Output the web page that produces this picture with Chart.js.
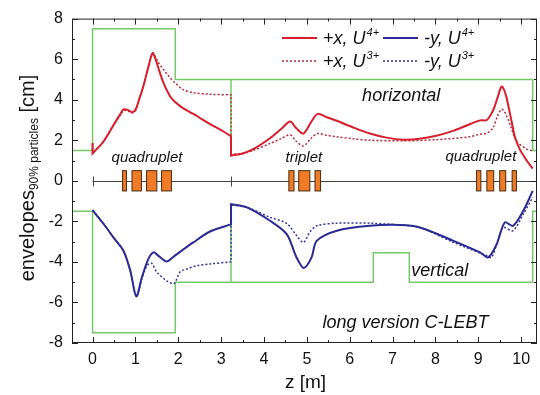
<!DOCTYPE html>
<html><head><meta charset="utf-8">
<script src="https://cdn.jsdelivr.net/npm/chart.js@4.4.1/dist/chart.umd.min.js"></script>
<style>html,body{margin:0;padding:0;background:#fff}#wrap{width:540px;height:395px}</style>
</head><body><div id="wrap"><canvas id="c" width="540" height="395"></canvas></div>
<script>
// ---- data ----
const xTicks = [0,1,2,3,4,5,6,7,8,9,10];
const yTicks = [-8,-6,-4,-2,0,2,4,6,8];

const redSolidZ = [0,0,0.26,0.49,0.65,0.72,0.82,0.92,1.0,1.1,1.19,1.30,1.40,1.47,1.53,1.65,1.80,1.92,2.1,2.35,2.74,3.0,3.23,3.23,3.5,3.75,4.14,4.4,4.61,4.75,4.92,5.1,5.25,5.45,5.70,6.08,6.47,6.86,7.25,7.63,8.02,8.41,8.80,9.04,9.2,9.34,9.45,9.54,9.6,9.66,9.78,9.85,9.97,10.13,10.27];
const redSolidV = [1.85,1.35,1.95,2.75,3.3,3.52,3.5,3.38,3.5,4.1,4.7,5.6,6.3,6.0,5.6,4.85,4.2,3.9,3.6,3.3,2.8,2.5,2.2,1.25,1.35,1.56,2.1,2.55,2.92,2.6,2.33,2.9,3.3,3.15,2.96,2.63,2.33,2.13,2.03,2.07,2.22,2.46,2.79,2.98,3.0,3.45,4.1,4.65,4.5,4.1,2.9,2.2,1.55,1.0,0.6];

const redDotZ = [0,0,0.26,0.49,0.65,0.72,0.82,0.92,1.0,1.1,1.19,1.30,1.40,1.47,1.53,1.65,1.80,1.92,2.11,2.35,2.74,3.23,3.23,3.5,3.75,4.14,4.4,4.61,4.75,4.92,5.1,5.25,5.45,5.7,6.08,6.47,7.25,8.02,8.8,9.04,9.2,9.34,9.45,9.54,9.6,9.66,9.74,9.89,10.13,10.27];
const redDotV = [1.85,1.35,1.95,2.75,3.25,3.47,3.45,3.35,3.45,4.1,4.7,5.6,6.3,6.1,5.85,5.5,5.1,4.84,4.5,4.35,4.27,4.24,1.3,1.35,1.5,1.84,2.08,2.27,1.95,1.72,2.1,2.33,2.25,2.17,2.07,2.0,1.97,2.03,2.17,2.3,2.35,2.6,3.2,3.53,3.45,3.2,2.79,1.97,1.56,1.48];

const blueSolidZ = [0,0.26,0.49,0.72,0.88,1.02,1.15,1.3,1.42,1.53,1.73,1.92,2.35,2.74,3.23,3.23,3.6,4.14,4.53,4.76,4.93,5.11,5.23,5.7,6.47,7.17,7.64,8.42,9.04,9.23,9.43,9.62,9.81,10.05,10.27];
const blueSolidV = [-1.45,-2.13,-2.8,-3.45,-4.43,-5.7,-4.76,-3.86,-3.53,-3.69,-3.98,-3.69,-3.04,-2.5,-2.15,-1.15,-1.31,-1.97,-2.63,-3.78,-4.3,-3.78,-2.96,-2.46,-2.22,-2.18,-2.3,-2.96,-3.53,-3.78,-3.12,-2.05,-2.22,-1.48,-0.5];

const blueDotZ = [0,0.26,0.49,0.72,0.88,1.02,1.15,1.23,1.31,1.38,1.5,1.73,1.9,2.04,2.2,2.43,2.74,3.23,3.23,3.6,4.14,4.53,4.76,4.92,5.08,5.23,5.7,6.47,7.17,7.64,8.42,9.2,9.31,9.45,9.58,9.81,10.05,10.27];
const blueDotV = [-1.45,-2.13,-2.8,-3.45,-4.43,-5.7,-4.85,-4.35,-4.1,-4.07,-4.5,-4.93,-5.07,-4.5,-4.35,-4.19,-4.1,-4.0,-1.2,-1.3,-1.8,-2.1,-2.7,-3.04,-2.5,-2.22,-2.09,-2.09,-2.18,-2.3,-3.04,-3.69,-3.78,-3.0,-2.3,-2.46,-1.64,-0.82];

const apertureUpZ = [-0.48,0,0,1.93,1.93,3.23,3.23,3.23,10.27,10.27,10.37];
const apertureUpV = [1.5,1.5,7.5,7.5,5,5,1.2,5,5,1.5,1.5];
const apertureLoZ = [-0.48,0,0,1.93,1.93,3.23,3.23,3.23,6.55,6.55,7.39,7.39,10.27,10.27,10.37];
const apertureLoV = [-1.5,-1.5,-7.5,-7.5,-5,-5,-1.15,-5,-5,-3.55,-3.55,-5,-5,-1.5,-1.5];

const magnetStart = [0.70,0.92,1.26,1.61, 4.58,4.81,5.19, 8.96,9.20,9.50,9.79];
const magnetEnd   = [0.79,1.14,1.50,1.84, 4.70,5.07,5.32, 9.06,9.36,9.64,9.89];
const magnetHalf = 0.5;
const beamlineMarks = [0, 3.23];
const beamlineEnd = 10.37;

const seriesBase = ['+x, U','-y, U','+x, U','-y, U'];
const seriesSup = ['4+','4+','3+','3+'];

// points; a point that is part of a vertical jump is repeated so the spline keeps a sharp corner there
const toPoints = (z, v) => {
  const pts = [];
  z.forEach((zz, i) => {
    const p = {x: zz, y: v[i]};
    pts.push(p);
    const jump = (i+1 < z.length && z[i+1] === zz) || (i > 0 && z[i-1] === zz);
    if (jump) pts.push({x: zz, y: v[i]});
  });
  return pts;
};

// ---- styling ----
const RED = '#d81e2c', BLUE = '#2b2b95', RED_D = '#b8283a', BLUE_D = '#33339f', GREEN = '#77c86a';
const FONT = "'Liberation Sans', Arial, sans-serif";

const beamPlugin = {
  id:'beam',
  beforeDatasetsDraw(chart){
    const {ctx, scales:{x,y}} = chart;
    ctx.save();
    ctx.strokeStyle = '#444'; ctx.lineWidth = 1;
    const y0 = Math.round(y.getPixelForValue(0))+0.5;
    ctx.beginPath(); ctx.moveTo(x.getPixelForValue(0), y0); ctx.lineTo(x.getPixelForValue(beamlineEnd), y0); ctx.stroke();
    beamlineMarks.forEach(z=>{ const px = Math.round(x.getPixelForValue(z))+0.5; ctx.beginPath(); ctx.moveTo(px,y0-5); ctx.lineTo(px,y0+5); ctx.stroke(); });
    ctx.fillStyle = '#f07b26'; ctx.strokeStyle = '#4a2a10';
    magnetStart.forEach((s,i)=>{
      const x1 = x.getPixelForValue(s), x2 = x.getPixelForValue(magnetEnd[i]);
      const y1 = y.getPixelForValue(magnetHalf), y2 = y.getPixelForValue(-magnetHalf);
      ctx.fillRect(x1,y1,x2-x1,y2-y1); ctx.strokeRect(x1,y1,x2-x1,y2-y1);
    });
    ctx.restore();
  }
};

const framePlugin = {
  id:'frame',
  afterDraw(chart){
    const {ctx, chartArea:a, scales:{x,y}} = chart;
    ctx.save();
    ctx.strokeStyle = '#222'; ctx.lineWidth = 1;
    ctx.strokeRect(a.left+0.5, a.top+0.5, a.right-a.left-1, a.bottom-a.top-1);
    const tick = (px, len, horiz) => {
      px = Math.round(px)+0.5;
      ctx.beginPath();
      if (horiz) { ctx.moveTo(px, a.bottom); ctx.lineTo(px, a.bottom-len); ctx.moveTo(px, a.top); ctx.lineTo(px, a.top+len); }
      else { ctx.moveTo(a.left, px); ctx.lineTo(a.left+len, px); ctx.moveTo(a.right, px); ctx.lineTo(a.right-len, px); }
      ctx.stroke();
    };
    for (let v=-0.5; v<=10.3; v+=0.5) { const major = Math.abs(v-Math.round(v))<1e-6; if (v>=-0.45) tick(x.getPixelForValue(v), major?6:3, true); }
    for (let v=-8; v<=8; v+=1) { const major = v%2===0; tick(y.getPixelForValue(v), major?6:3, false); }

    // axis titles
    ctx.fillStyle = '#111';
    ctx.font = `19px ${FONT}`; ctx.textAlign = 'center'; ctx.textBaseline = 'middle';
    ctx.fillText('z [m]', (a.left+a.right)/2 + 1, 383);
    ctx.translate(27, 178); ctx.rotate(-Math.PI/2);
    const p1 = 'envelopes', p2 = '90% particles', p3 = ' [cm]';
    ctx.font = `20px ${FONT}`; const w1 = ctx.measureText(p1).width, w3 = ctx.measureText(p3).width;
    ctx.font = `12px ${FONT}`; const w2 = ctx.measureText(p2).width;
    let sx = -(w1+w2+w3)/2;
    ctx.textAlign = 'left'; ctx.textBaseline = 'alphabetic';
    ctx.font = `20px ${FONT}`; ctx.fillText(p1, sx, 7); sx += w1;
    ctx.font = `12px ${FONT}`; ctx.fillText(p2, sx, 11); sx += w2;
    ctx.font = `20px ${FONT}`; ctx.fillText(p3, sx, 7);
    ctx.restore();

    // annotations
    ctx.save();
    ctx.fillStyle = '#111'; ctx.textAlign = 'center'; ctx.textBaseline = 'middle';
    const put = (t, z, v, size) => { ctx.font = `italic ${size}px ${FONT}`; ctx.fillText(t, x.getPixelForValue(z), y.getPixelForValue(v)); };
    put('horizontal', 7.2, 4.2, 18);
    put('quadruplet', 1.27, 1.15, 15);
    put('triplet', 4.93, 1.15, 15);
    put('quadruplet', 9.06, 1.2, 15);
    put('vertical', 8.1, -4.45, 18);
    put('long version C-LEBT', 7.3, -7.0, 18);

    // legend
    const rows = [38, 61], lineX = [282, 383], textX = [323, 424];
    const styles = [[RED,2,[]],[BLUE,2,[]],[RED_D,1.5,[2,2]],[BLUE_D,1.5,[2,2]]];
    ctx.textAlign = 'left'; ctx.textBaseline = 'alphabetic';
    seriesBase.forEach((t,i)=>{
      const r = Math.floor(i/2), c = i%2, yy = rows[r];
      ctx.strokeStyle = styles[i][0]; ctx.lineWidth = styles[i][1]; ctx.setLineDash(styles[i][2]);
      ctx.beginPath(); ctx.moveTo(lineX[c], yy); ctx.lineTo(lineX[c]+35, yy); ctx.stroke(); ctx.setLineDash([]);
      ctx.fillStyle = '#111';
      ctx.font = `italic 18px ${FONT}`; ctx.fillText(t, textX[c], yy+6);
      const w = ctx.measureText(t).width;
      ctx.font = `italic 11px ${FONT}`; ctx.fillText(seriesSup[i], textX[c]+w+1, yy-2);
    });
    ctx.restore();
  }
};

const ds = (label, z, v, color, width, dash, tension) => ({
  label, data: toPoints(z,v), borderColor: color, borderWidth: width, borderDash: dash,
  pointRadius: 0, tension: tension, fill: false, showLine: true
});

new Chart(document.getElementById('c'), {
  type: 'scatter',
  data: { datasets: [
    ds('+x, U4+', redSolidZ, redSolidV, RED, 2, [], 0.3),
    ds('-y, U4+', blueSolidZ, blueSolidV, BLUE, 2, [], 0.3),
    ds('+x, U3+', redDotZ, redDotV, RED_D, 1.5, [2,2], 0.3),
    ds('-y, U3+', blueDotZ, blueDotV, BLUE_D, 1.5, [2,2], 0.3),
    ds('aperture x', apertureUpZ, apertureUpV, GREEN, 1.5, [], 0),
    ds('aperture y', apertureLoZ, apertureLoV, GREEN, 1.5, [], 0),
  ]},
  options: {
    responsive: false, animation: false, devicePixelRatio: 1,
    layout: { padding: { left: 0, right: 3, top: 17, bottom: 0 } },
    plugins: { legend: { display: false }, tooltip: { enabled: false } },
    scales: {
      x: { type: 'linear', min: -0.48, max: 10.37,
        grid: { display: false, drawTicks: false }, border: { display: false },
        afterBuildTicks: s => { s.ticks = xTicks.map(v=>({value:v})); },
        afterFit: s => { s.height = 52; },
        ticks: { padding: 7, color: '#111', font: { family: FONT, size: 16 }, callback: v => String(v) } },
      y: { type: 'linear', min: -8, max: 8,
        grid: { display: false, drawTicks: false }, border: { display: false },
        afterBuildTicks: s => { s.ticks = yTicks.map(v=>({value:v})); },
        afterFit: s => { s.width = 72; },
        ticks: { padding: 9, color: '#111', font: { family: FONT, size: 16 }, callback: v => String(v) } }
    }
  },
  plugins: [beamPlugin, framePlugin]
});
</script></body></html>
